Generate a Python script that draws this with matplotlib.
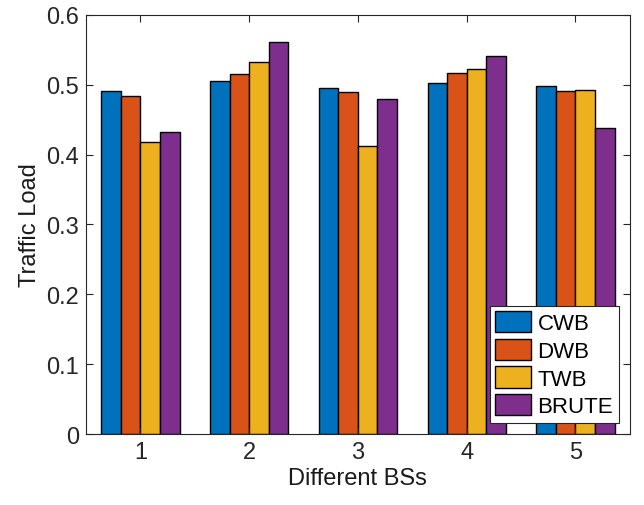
import numpy as np
import matplotlib
matplotlib.use('Agg')
import matplotlib.pyplot as plt

plt.rcParams['font.family'] = ['Liberation Sans', 'DejaVu Sans']

bss = [1, 2, 3, 4, 5]
names = ['CWB', 'DWB', 'TWB', 'BRUTE']
cwb = [0.491, 0.505, 0.496, 0.503, 0.499]
dwb = [0.484, 0.515, 0.490, 0.517, 0.491]
twb = [0.418, 0.533, 0.412, 0.522, 0.493]
brute = [0.432, 0.561, 0.479, 0.541, 0.438]
colors = ['#0072BD', '#D95319', '#EDB120', '#7E2F8E']

fig = plt.figure(figsize=(6.44, 5.06), dpi=100)
ax = fig.add_axes([0.1335, 0.1403, 0.8445, 0.8281])

w = 0.18
x = np.array(bss)
for i, (vals, nm) in enumerate(zip([cwb, dwb, twb, brute], names)):
    ax.bar(x + (i - 1.5) * w, vals, w, color=colors[i], edgecolor='black',
           linewidth=1.0, label=nm)

ax.set_xlim(0.5, 5.5)
ax.set_ylim(0, 0.6)
ax.set_xticks(bss)
ax.set_yticks(np.arange(0, 0.61, 0.1))
ax.set_yticklabels(['0', '0.1', '0.2', '0.3', '0.4', '0.5', '0.6'])
ax.tick_params(direction='in', top=True, right=True, labelsize=17,
               colors='#262626', length=5, pad=5)
for s in ax.spines.values():
    s.set_color('#262626')
    s.set_linewidth(0.8)
ax.set_xlabel('Different BSs', fontsize=17, color='#1a1a1a', labelpad=3)
ax.set_ylabel('Traffic Load', fontsize=17, color='#1a1a1a', labelpad=4)

leg = ax.legend(loc='lower right', fontsize=16, fancybox=False, framealpha=1,
                edgecolor='#262626', borderaxespad=0.5, handlelength=1.6,
                handleheight=1.1, labelspacing=0.2, borderpad=0.25,
                handletextpad=0.3)
leg.get_frame().set_linewidth(0.8)

fig.savefig('out.png', dpi=100)
